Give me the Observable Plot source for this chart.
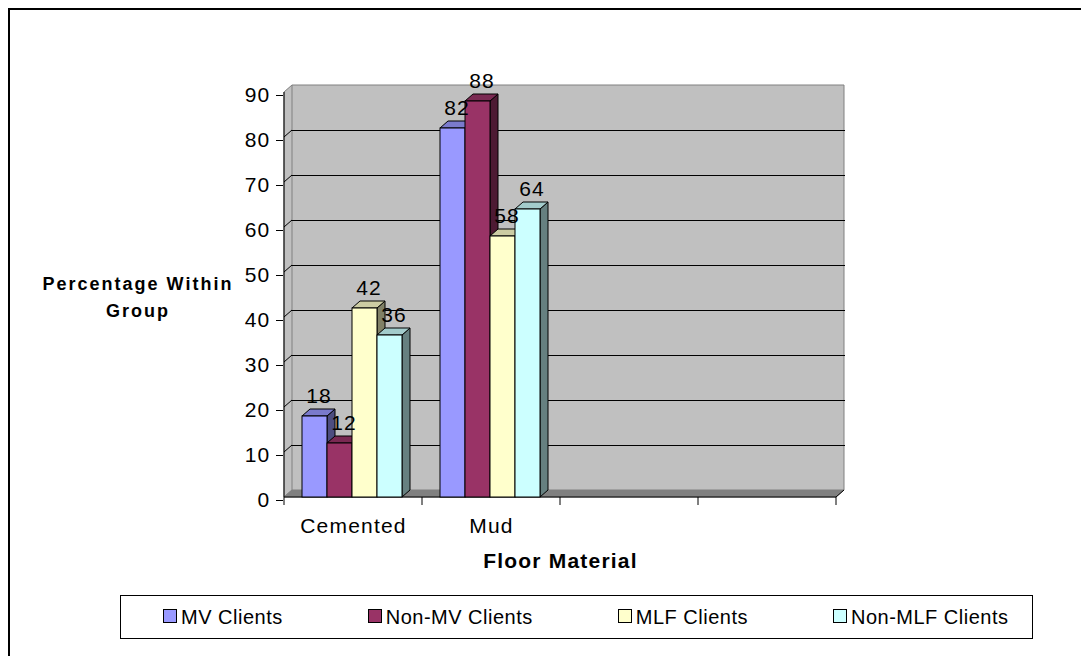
<!DOCTYPE html>
<html>
<head>
<meta charset="utf-8">
<script src="https://cdn.jsdelivr.net/npm/d3@7"></script>
<script src="https://cdn.jsdelivr.net/npm/@observablehq/plot@0.6"></script>
<style>
  html, body { margin: 0; padding: 0; background: #fff; width: 1081px; height: 656px; overflow: hidden;
    font-family: "Liberation Sans", Arial, sans-serif; }
  #frame { position: absolute; left: 8px; top: 8px; width: 1200px; height: 800px;
    border-left: 2px solid #000; border-top: 2px solid #000; box-sizing: border-box; }
  #chart { position: absolute; left: 0; top: 0; width: 1081px; height: 590px; }
  #chart svg { position: absolute; left: 0; top: 0; }
  #legend { position: absolute; left: 120px; top: 595px; width: 913px; height: 44px; box-sizing: border-box;
    border: 1px solid #000; display: flex; align-items: center; padding-left: 42px; gap: 85px; }
  .item { display: flex; align-items: center; font-size: 20px; letter-spacing: 0.5px; color: #000; white-space: nowrap; }
  .sw { width: 12px; height: 12px; border: 1px solid #000; margin-right: 4px; margin-top: -3px; }
</style>
</head>
<body>
<div id="frame"></div>
<div id="chart"></div>
<div id="legend"></div>
<script>
// ---- data ----
const categories = ["Cemented", "Mud", "blank-3", "blank-4"];
const series = ["MV Clients", "Non-MV Clients", "MLF Clients", "Non-MLF Clients"];
const cementedValues = [18, 12, 42, 36];
const mudValues = [82, 88, 58, 64];
const yTicks = [0, 10, 20, 30, 40, 50, 60, 70, 80, 90];
const seriesColors = ["#9999ff", "#993366", "#ffffcc", "#ccffff"];

const rows = [
  ...series.map((s, i) => ({cat: categories[0], series: s, value: cementedValues[i]})),
  ...series.map((s, i) => ({cat: categories[1], series: s, value: mudValues[i]}))
];

// ---- layout ----
const W = 1081, H = 590, ML = 283, MR = 244, MT = 92, MB = 93;
const DX = 8, DY = -7; // 3D depth offset
const FONT = "Liberation Sans, Arial, sans-serif";

function shade(c, k) {
  const col = d3.rgb(c);
  return d3.rgb(col.r * k, col.g * k, col.b * k).formatHex();
}

// walls, floor, axis lines, boundary ticks
function decor(index, scales) {
  const x = scales.x, y = scales.y;
  const bw = x.bandwidth();
  const x0 = x(categories[0]);
  const x1 = x(categories[categories.length - 1]) + bw;
  const yTop = y(yTicks[yTicks.length - 1]), yBot = y(0);
  const g = d3.create("svg:g");
  g.append("path")
    .attr("d", `M${x0},${yTop}L${x0 + DX},${yTop + DY}L${x0 + DX},${yBot + DY}L${x0},${yBot}Z`)
    .attr("fill", "#c0c0c0").attr("stroke", "#808080");
  g.append("path")
    .attr("d", `M${x0 + DX},${yTop + DY}H${x1 + DX}V${yBot + DY}`)
    .attr("fill", "none").attr("stroke", "#808080");
  g.append("path")
    .attr("d", `M${x0},${yBot}L${x0 + DX},${yBot + DY}H${x1 + DX}L${x1},${yBot}Z`)
    .attr("fill", "#808080").attr("stroke", "#808080");
  for (const t of yTicks.slice(1, -1)) {
    g.append("line").attr("x1", x0).attr("y1", y(t)).attr("x2", x0 + DX).attr("y2", y(t) + DY)
      .attr("stroke", "#000");
  }
  g.append("line").attr("x1", x0).attr("y1", yTop).attr("x2", x0).attr("y2", yBot).attr("stroke", "#000");
  g.append("path").attr("d", `M${x0},${yBot}H${x1}L${x1 + DX},${yBot + DY}`)
    .attr("fill", "none").attr("stroke", "#000");
  const edges = [...categories.map((c) => x(c)), x1];
  for (const e of edges) {
    g.append("line").attr("x1", e).attr("y1", yBot).attr("x2", e).attr("y2", yBot + 8).attr("stroke", "#000");
  }
  return g.node();
}

const back = Plot.plot({
  width: W, height: H, marginLeft: ML, marginRight: MR, marginTop: MT, marginBottom: MB,
  style: {fontFamily: FONT, background: "transparent", overflow: "visible", color: "#000"},
  x: {type: "band", domain: categories, padding: 0, axis: null},
  y: {domain: [0, 90], axis: null},
  marks: [
    Plot.barY(categories, {x: (d) => d, y1: 0, y2: 90, fill: "#c0c0c0", dx: DX, dy: DY, inset: 0}),
    decor,
    Plot.ruleY(yTicks.slice(1, -1), {dx: DX, dy: DY, stroke: "#000"}),
    Plot.axisY({ticks: yTicks, tickSize: 7, tickPadding: 6, fontSize: 21, dy: 3, tickFormat: (d) => String(d)}),
    Plot.axisX({tickSize: 0, tickPadding: 21, fontSize: 21, tickFormat: (d) => d.startsWith("blank") ? "" : d}),
    Plot.text(["Floor Material"], {text: (d) => d, frameAnchor: "bottom", textAnchor: "middle", dy: 70.6,
      fontWeight: "bold", fontSize: 21}),
    Plot.text(["Percentage Within\nGroup"], {text: (d) => d, frameAnchor: "left", textAnchor: "middle", dx: -145.5,
      lineHeight: 1.5, fontWeight: "bold", fontSize: 18})
  ]
});

// top and side faces of the 3D bars
function faces(index, scales, values) {
  const g = d3.create("svg:g");
  const bw = scales.x.bandwidth();
  for (const i of index) {
    const xl = values.x[i], xr = xl + bw;
    const yt = Math.min(values.y1[i], values.y2[i]);
    const yb = Math.max(values.y1[i], values.y2[i]);
    const c = values.fill ? values.fill[i] : "#999";
    g.append("path")
      .attr("d", `M${xr},${yt}L${xr + DX},${yt + DY}L${xr + DX},${yb + DY}L${xr},${yb}Z`)
      .attr("fill", shade(c, 0.5)).attr("stroke", "#000");
    g.append("path")
      .attr("d", `M${xl},${yt}L${xl + DX},${yt + DY}L${xr + DX},${yt + DY}L${xr},${yt}Z`)
      .attr("fill", shade(c, 0.8)).attr("stroke", "#000");
  }
  return g.node();
}

const front = Plot.plot({
  width: W, height: H, marginLeft: ML, marginRight: MR, marginTop: MT, marginBottom: MB,
  style: {fontFamily: FONT, background: "transparent", overflow: "visible", color: "#000"},
  fx: {domain: categories, padding: 0, axis: null},
  x: {domain: series, paddingInner: 0, paddingOuter: 0.74, align: 0.47, axis: null},
  y: {domain: [0, 90], axis: null},
  color: {domain: series, range: seriesColors},
  marks: [
    Plot.barY(rows, {fx: "cat", x: "series", y: "value", fill: "series", render: faces}),
    Plot.barY(rows, {fx: "cat", x: "series", y: "value", fill: "series", stroke: "#000", strokeWidth: 1}),
    Plot.text(rows, {fx: "cat", x: "series", y: "value", text: (d) => String(d.value), dx: 4, dy: -14,
      lineAnchor: "bottom", fontSize: 21})
  ]
});

const chart = document.getElementById("chart");
chart.appendChild(back);
chart.appendChild(front);

d3.select(back).selectAll('g[aria-label="y-axis tick label"] text, g[aria-label="x-axis tick label"] text')
  .style("letter-spacing", "1.2px");
d3.select(back).selectAll("text").each(function () {
  const t = this.textContent;
  if (t === "Floor Material") d3.select(this).style("letter-spacing", "1.2px");
  else if (t.startsWith("Percentage")) d3.select(this).style("letter-spacing", "2px");
});
d3.select(front).selectAll("text").style("letter-spacing", "1px");

// legend
const legend = d3.select("#legend");
series.forEach((s, i) => {
  const item = legend.append("div").attr("class", "item");
  item.append("div").attr("class", "sw").style("background", seriesColors[i]);
  item.append("span").text(s);
});
</script>
</body>
</html>
